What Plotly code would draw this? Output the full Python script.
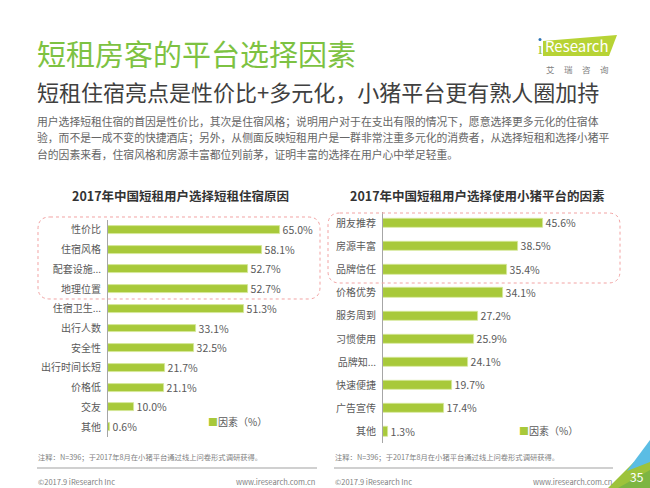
import plotly.graph_objects as go

W, H = 650, 488

# chart data
left_title = "2017年中国短租用户选择短租住宿原因"
left_labels = ["性价比", "住宿风格", "配套设施...", "地理位置", "住宿卫生...", "出行人数",
               "安全性", "出行时间长短", "价格低", "交友", "其他"]
left_values = [65.0, 58.1, 52.7, 52.7, 51.3, 33.1, 32.5, 21.7, 21.1, 10.0, 0.6]

right_title = "2017年中国短租用户选择使用小猪平台的因素"
right_labels = ["朋友推荐", "房源丰富", "品牌信任", "价格优势", "服务周到", "习惯使用",
                "品牌知...", "快速便捷", "广告宣传", "其他"]
right_values = [45.6, 38.5, 35.4, 34.1, 27.2, 25.9, 24.1, 19.7, 17.4, 1.3]

series_name = "因素（%）"

page_title = "短租房客的平台选择因素"
page_subtitle = "短租住宿亮点是性价比+多元化，小猪平台更有熟人圈加持"
body_lines = [
    "用户选择短租住宿的首因是性价比，其次是住宿风格；说明用户对于在支出有限的情况下，愿意选择更多元化的住宿体",
    "验，而不是一成不变的快捷酒店；另外，从侧面反映短租用户是一群非常注重多元化的消费者，从选择短租和选择小猪平",
    "台的因素来看，住宿风格和房源丰富都位列前茅，证明丰富的选择在用户心中举足轻重。",
]
note_text = "注释：N=396；于2017年8月在小猪平台通过线上问卷形式调研获得。"
footer_left = "©2017.9 iResearch Inc"
footer_right = "www.iresearch.com.cn"
page_no = "35"

FONT = "Noto Sans CJK SC"
BAR = "#A8C93A"
GREEN = "#7DC242"
GRAY = "#595959"


def px(x):
    return x / W


def py(y):
    return 1 - y / H


def rounded_box(x0, y0, x1, y1, r):
    # rounded rectangle path in paper coords (input in pixels)
    pts = [
        ("M", x0 + r, y0), ("L", x1 - r, y0), ("Q", x1, y0, x1, y0 + r),
        ("L", x1, y1 - r), ("Q", x1, y1, x1 - r, y1), ("L", x0 + r, y1),
        ("Q", x0, y1, x0, y1 - r), ("L", x0, y0 + r), ("Q", x0, y0, x0 + r, y0),
    ]
    out = []
    for p in pts:
        cmd = p[0]
        coords = p[1:]
        s = " ".join(f"{px(coords[i]):.5f},{py(coords[i + 1]):.5f}" for i in range(0, len(coords), 2))
        out.append(f"{cmd} {s}")
    return " ".join(out) + " Z"


def poly(points):
    return "M " + " L ".join(f"{px(x):.5f},{py(y):.5f}" for x, y in points) + " Z"


fig = go.Figure()

fig.add_trace(go.Bar(
    x=left_values, y=left_labels, orientation="h",
    marker=dict(color=BAR, line=dict(color="#D6E89A", width=0.8)),
    width=0.4, name=series_name, showlegend=False,
    text=[f"{v:.1f}%" for v in left_values], textposition="outside", constraintext="none",
    textfont=dict(size=10.5, color=GRAY, family=FONT), cliponaxis=False,
    xaxis="x", yaxis="y",
))
fig.add_trace(go.Bar(
    x=right_values, y=right_labels, orientation="h",
    marker=dict(color=BAR, line=dict(color="#D6E89A", width=0.8)),
    width=0.4, name=series_name, showlegend=False,
    text=[f"{v:.1f}%" for v in right_values], textposition="outside", constraintext="none",
    textfont=dict(size=10.5, color=GRAY, family=FONT), cliponaxis=False,
    xaxis="x2", yaxis="y2",
))

xcommon = dict(showgrid=False, zeroline=False, showticklabels=False, showline=False, fixedrange=True)
ycommon = dict(showgrid=False, zeroline=False, showline=True, linecolor="#A6A6A6", linewidth=1,
               ticks="", tickfont=dict(size=10, color=GRAY, family=FONT), ticklabelstandoff=4)

fig.update_layout(
    width=W, height=H,
    margin=dict(l=0, r=0, t=0, b=0),
    paper_bgcolor="white", plot_bgcolor="white",
    font=dict(family=FONT, color=GRAY),
    bargap=0,
    xaxis=dict(domain=[px(108), px(310)], range=[0, 76.3], anchor="y", **xcommon),
    yaxis=dict(domain=[py(437), py(220)], range=[len(left_labels) - 0.5, -0.5],
               categoryorder="array", categoryarray=left_labels, anchor="x", **ycommon),
    xaxis2=dict(domain=[px(383), px(630)], range=[0, 70.4], anchor="y2", **xcommon),
    yaxis2=dict(domain=[py(443.3), py(211.7)], range=[len(right_labels) - 0.5, -0.5],
                categoryorder="array", categoryarray=right_labels, anchor="x2", **ycommon),
)

ann = []


def text(x, y, s, size, color=GRAY, anchor="left", bold=False):
    ann.append(dict(x=px(x), y=py(y), xref="paper", yref="paper", text=f"<b>{s}</b>" if bold else s,
                    showarrow=False, xanchor=anchor, yanchor="middle",
                    font=dict(size=size, color=color, family=FONT), borderpad=0))


text(36, 53, page_title, 29, GREEN)
text(36, 91, page_subtitle, 22, "#404040")
for i, line in enumerate(body_lines):
    text(36, 121 + i * 16.5, line, 10.8, "#666666")

text(180, 195, left_title, 12.5, "#333333", anchor="center", bold=True)
text(477, 195, right_title, 12.5, "#333333", anchor="center", bold=True)

legend_txt = f"<span style='color:{BAR}'>■</span>{series_name}"
text(207, 421, legend_txt, 10, GRAY)
text(518, 430, legend_txt, 10, GRAY)

text(37, 457, note_text, 7.3, "#7F7F7F")
text(334, 457, note_text, 7.3, "#7F7F7F")
text(37, 481, footer_left, 7.5, "#7F7F7F")
text(334, 481, footer_left, 7.5, "#7F7F7F")
text(316, 481, footer_right, 7.5, "#7F7F7F", anchor="right")
text(613, 481, footer_right, 7.5, "#7F7F7F", anchor="right")

# logo
text(577, 46, "Research", 15, "white", anchor="center")
text(540, 47, "ı", 16, "#9CC43A", anchor="center")
text(577, 69, "艾&nbsp;&nbsp;&nbsp;&nbsp;&nbsp;瑞&nbsp;&nbsp;&nbsp;&nbsp;&nbsp;咨&nbsp;&nbsp;&nbsp;&nbsp;&nbsp;询", 8.5, "#7F7F7F", anchor="center")
text(637, 476, page_no, 12, "white", anchor="center")

shapes = [
    dict(type="path", xref="paper", yref="paper", path=rounded_box(38, 217, 320, 299, 12),
         line=dict(color="#F2A3A3", width=1, dash="dot")),
    dict(type="path", xref="paper", yref="paper", path=rounded_box(328, 213, 620, 283, 12),
         line=dict(color="#F2A3A3", width=1, dash="dot")),
    dict(type="line", xref="paper", yref="paper", x0=px(37), x1=px(317), y0=py(468), y1=py(468),
         line=dict(color="#C0C0C0", width=1.5)),
    dict(type="line", xref="paper", yref="paper", x0=px(334), x1=px(613), y0=py(468), y1=py(468),
         line=dict(color="#C0C0C0", width=1.5)),
    # logo block
    dict(type="path", xref="paper", yref="paper", layer="below",
         path=poly([(543, 41), (617, 35), (609, 56), (543, 56)]),
         fillcolor="#B7D335", line=dict(width=0)),
    dict(type="circle", xref="paper", yref="paper", x0=px(538.5), x1=px(541.5), y0=py(41), y1=py(38),
         fillcolor="#2E75B6", line=dict(width=0)),
    # corner decoration
    dict(type="path", xref="paper", yref="paper", layer="below",
         path=poly([(608, 488), (634, 462), (650, 458), (650, 488)]),
         fillcolor="#9DC33B", line=dict(width=0)),
    dict(type="path", xref="paper", yref="paper", layer="below",
         path=poly([(618, 488), (650, 470), (650, 488)]),
         fillcolor="#7DB542", line=dict(width=0)),
    dict(type="path", xref="paper", yref="paper", layer="below",
         path=poly([(650, 440), (650, 462), (627, 471)]),
         fillcolor="#5BBDE4", line=dict(width=0)),
]

fig.update_layout(annotations=ann, shapes=shapes)

# the page's default 8px body margin would push the 650x488 figure off the window
fig.write_html("out.html", config={"displayModeBar": False},
               post_script="document.body.style.margin='0';")
